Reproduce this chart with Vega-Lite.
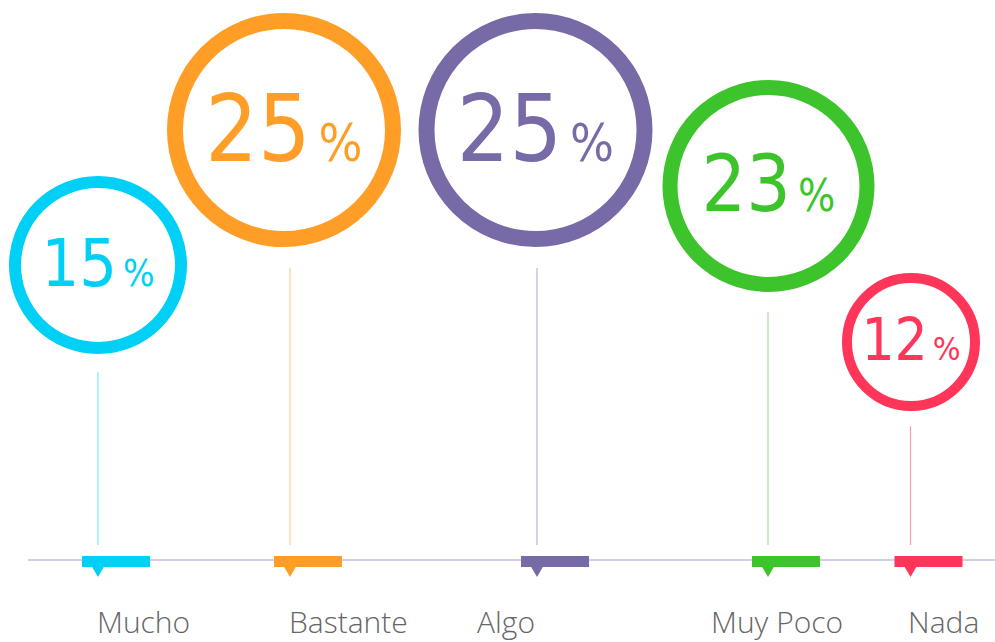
{
  "$schema": "https://vega.github.io/schema/vega-lite/v6.json",
  "width": 995,
  "height": 642,
  "autosize": {"type": "none"},
  "padding": 0,
  "background": "white",
  "config": {"view": {"stroke": null}},
  "data": {"values": [
    {"category": "Mucho", "value": 15, "order": 1},
    {"category": "Bastante", "value": 25, "order": 2},
    {"category": "Algo", "value": 25, "order": 3},
    {"category": "Muy Poco", "value": 23, "order": 4},
    {"category": "Nada", "value": 12, "order": 5}
  ]},
  "resolve": {"scale": {"x": "independent", "y": "independent", "size": "independent"}},
  "layer": [
    {
      "data": {"values": [{"span": "eje"}]},
      "mark": {"type": "rule", "color": "#C4BDE0", "strokeWidth": 1.5},
      "encoding": {
        "x": {"datum": 0, "type": "quantitative", "scale": {"domain": [0, 6], "range": [28, 995], "nice": false, "zero": false}, "axis": null},
        "x2": {"datum": 6},
        "y": {"datum": 0, "type": "quantitative", "scale": {"domain": [0, 1], "range": [560, 642], "nice": false, "zero": false}, "axis": null}
      }
    },
    {
      "mark": {"type": "rule", "strokeWidth": 1.2, "opacity": 0.5},
      "encoding": {
        "x": {"field": "order", "type": "quantitative", "scale": {"domain": [1, 2, 3, 4, 5], "range": [98, 290, 537, 768, 910.5], "nice": false, "zero": false}, "axis": null},
        "y": {"field": "value", "type": "quantitative", "scale": {"domain": [0, 12, 15, 23, 25], "range": [545, 426, 372, 312, 268], "nice": false, "zero": false}, "axis": null},
        "y2": {"datum": 0},
        "color": {"field": "category", "type": "nominal", "scale": {"domain": ["Mucho", "Bastante", "Algo", "Muy Poco", "Nada"], "range": ["#00D0F5", "#FF9E27", "#776AA6", "#3DC42D", "#FF3559"]}, "legend": null}
      }
    },
    {
      "mark": {"type": "tick", "orient": "horizontal", "thickness": 11, "size": 68, "opacity": 1},
      "encoding": {
        "x": {"field": "order", "type": "quantitative", "scale": {"domain": [1, 2, 3, 4, 5], "range": [116, 308, 555, 786, 928.5], "nice": false, "zero": false}, "axis": null},
        "y": {"datum": 0, "type": "quantitative", "scale": {"domain": [0, 1], "range": [561.5, 642], "nice": false, "zero": false}, "axis": null},
        "color": {"field": "category", "type": "nominal", "scale": {"domain": ["Mucho", "Bastante", "Algo", "Muy Poco", "Nada"], "range": ["#00D0F5", "#FF9E27", "#776AA6", "#3DC42D", "#FF3559"]}, "legend": null}
      }
    },
    {
      "mark": {"type": "point", "shape": "triangle-down", "filled": true, "size": 196, "opacity": 1},
      "encoding": {
        "x": {"field": "order", "type": "quantitative", "scale": {"domain": [1, 2, 3, 4, 5], "range": [98, 290, 537, 768, 910.5], "nice": false, "zero": false}, "axis": null},
        "y": {"datum": 0, "type": "quantitative", "scale": {"domain": [0, 1], "range": [571, 642], "nice": false, "zero": false}, "axis": null},
        "color": {"field": "category", "type": "nominal", "scale": {"domain": ["Mucho", "Bastante", "Algo", "Muy Poco", "Nada"], "range": ["#00D0F5", "#FF9E27", "#776AA6", "#3DC42D", "#FF3559"]}, "legend": null}
      }
    },
    {
      "mark": {"type": "point", "shape": "circle", "filled": false, "opacity": 1},
      "encoding": {
        "x": {"field": "order", "type": "quantitative", "scale": {"domain": [1, 2, 3, 4, 5], "range": [98, 284, 535.5, 768.5, 911], "nice": false, "zero": false}, "axis": null},
        "y": {"field": "value", "type": "quantitative", "scale": {"domain": [12, 15, 23, 25], "range": [342, 265, 186, 130], "nice": false, "zero": false}, "axis": null},
        "size": {"field": "value", "type": "quantitative", "scale": {"domain": [12, 15, 23, 25], "range": [16384, 27556, 38809, 47524], "zero": false}, "legend": null},
        "strokeWidth": {"field": "value", "type": "quantitative", "scale": {"domain": [12, 15, 23, 25], "range": [10, 12, 15, 16], "zero": false}, "legend": null},
        "color": {"field": "category", "type": "nominal", "scale": {"domain": ["Mucho", "Bastante", "Algo", "Muy Poco", "Nada"], "range": ["#00D0F5", "#FF9E27", "#776AA6", "#3DC42D", "#FF3559"]}, "legend": null}
      }
    },
    {
      "mark": {"type": "text", "align": "right", "baseline": "alphabetic", "font": "'DejaVu Sans Condensed', 'DejaVu Sans', sans-serif"},
      "encoding": {
        "x": {"field": "order", "type": "quantitative", "scale": {"domain": [1, 2, 3, 4, 5], "range": [117, 310.6, 562.1, 790.9, 927.8], "nice": false, "zero": false}, "axis": null},
        "y": {"field": "value", "type": "quantitative", "scale": {"domain": [12, 15, 23, 25], "range": [360.1, 286, 210.9, 160.5], "nice": false, "zero": false}, "axis": null},
        "size": {"field": "value", "type": "quantitative", "scale": {"domain": [12, 15, 23, 25], "range": [58, 66, 78, 92], "zero": false}, "legend": null},
        "text": {"field": "value", "type": "quantitative"},
        "color": {"field": "category", "type": "nominal", "scale": {"domain": ["Mucho", "Bastante", "Algo", "Muy Poco", "Nada"], "range": ["#00D0F5", "#FF9E27", "#776AA6", "#3DC42D", "#FF3559"]}, "legend": null}
      }
    },
    {
      "mark": {"type": "text", "align": "left", "baseline": "alphabetic", "text": "%", "font": "'DejaVu Sans Condensed', 'DejaVu Sans', sans-serif"},
      "encoding": {
        "x": {"field": "order", "type": "quantitative", "scale": {"domain": [1, 2, 3, 4, 5], "range": [123, 318.6, 570.1, 797.9, 932.8], "nice": false, "zero": false}, "axis": null},
        "y": {"field": "value", "type": "quantitative", "scale": {"domain": [12, 15, 23, 25], "range": [360.1, 286, 210.9, 160.5], "nice": false, "zero": false}, "axis": null},
        "size": {"field": "value", "type": "quantitative", "scale": {"domain": [12, 15, 23, 25], "range": [32.5, 37, 43.7, 51.5], "zero": false}, "legend": null},
        "color": {"field": "category", "type": "nominal", "scale": {"domain": ["Mucho", "Bastante", "Algo", "Muy Poco", "Nada"], "range": ["#00D0F5", "#FF9E27", "#776AA6", "#3DC42D", "#FF3559"]}, "legend": null}
      }
    },
    {
      "mark": {"type": "text", "align": "left", "baseline": "alphabetic", "font": "Open Sans", "fontWeight": 300, "fontSize": 30, "color": "#666666"},
      "encoding": {
        "x": {"field": "order", "type": "quantitative", "scale": {"domain": [1, 2, 3, 4, 5], "range": [97, 289, 477, 711, 908], "nice": false, "zero": false}, "axis": null},
        "y": {"datum": 0, "type": "quantitative", "scale": {"domain": [0, 1], "range": [633, 642], "nice": false, "zero": false}, "axis": null},
        "text": {"field": "category", "type": "nominal"}
      }
    }
  ]
}
